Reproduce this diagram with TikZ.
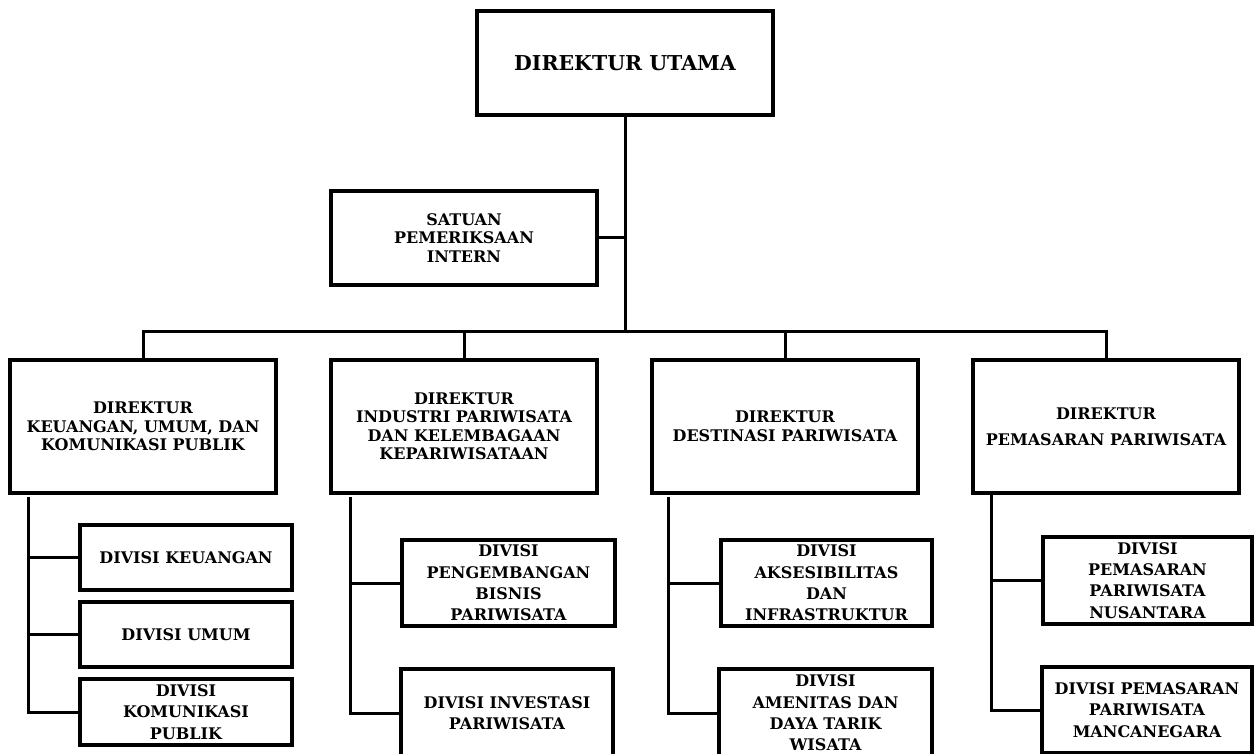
\documentclass[tikz,border=0pt]{standalone}
\usepackage{fontspec}
\setmainfont{DejaVu Serif}
\begin{document}
\begin{tikzpicture}[x=1pt,y=-1pt,
  box/.style={draw, line width=3.2pt, rectangle, inner sep=0pt, align=center,
    font=\fontsize{16}{18.5}\selectfont\bfseries},
  divbox/.style={box, font=\fontsize{16}{21.3}\selectfont\bfseries},
  conn/.style={line width=3pt},
]
\useasboundingbox (0,0) rectangle (1254,754);
\clip (0,0) rectangle (1254,754);

% top level
\node[box, minimum width=296pt, minimum height=104pt, font=\fontsize{20.5}{26}\selectfont\bfseries] (top) at (625,63) {DIREKTUR UTAMA};
\node[box, minimum width=266pt, minimum height=94pt] (sat) at (464,238) {SATUAN\\PEMERIKSAAN\\INTERN};

% directors
\node[box, minimum width=266pt, minimum height=133pt] (d1) at (143,426.5) {DIREKTUR\\KEUANGAN, UMUM, DAN\\KOMUNIKASI PUBLIK};
\node[box, minimum width=266pt, minimum height=133pt] (d2) at (464,426.5) {DIREKTUR\\INDUSTRI PARIWISATA\\DAN KELEMBAGAAN\\KEPARIWISATAAN};
\node[box, minimum width=266pt, minimum height=133pt] (d3) at (785,426.5) {DIREKTUR\\DESTINASI PARIWISATA};
\node[box, minimum width=266pt, minimum height=133pt, font=\fontsize{16}{26}\selectfont\bfseries] (d4) at (1106,426.5) {DIREKTUR\\PEMASARAN PARIWISATA};

% divisions column 1
\node[divbox, minimum width=212pt, minimum height=65pt] (a1) at (186,557.5) {DIVISI KEUANGAN};
\node[divbox, minimum width=212pt, minimum height=65pt] (a2) at (186,634.5) {DIVISI UMUM};
\node[divbox, minimum width=212pt, minimum height=66pt] (a3) at (186,712) {DIVISI\\KOMUNIKASI\\PUBLIK};

% column 2
\node[divbox, minimum width=213pt, minimum height=86pt] (b1) at (508.5,583) {DIVISI\\PENGEMBANGAN\\BISNIS\\PARIWISATA};
\node[divbox, minimum width=212pt, minimum height=88pt] (b2) at (507,713) {DIVISI INVESTASI\\PARIWISATA};

% column 3
\node[divbox, minimum width=211pt, minimum height=86pt] (c1) at (826.5,583) {DIVISI\\AKSESIBILITAS\\DAN\\INFRASTRUKTUR};
\node[divbox, minimum width=213pt, minimum height=88pt] (c2) at (825.5,713) {DIVISI\\AMENITAS DAN\\DAYA TARIK\\WISATA};

% column 4
\node[divbox, minimum width=209pt, minimum height=87pt] (e1) at (1147.5,580.5) {DIVISI\\PEMASARAN\\PARIWISATA\\NUSANTARA};
\node[divbox, minimum width=210pt, minimum height=86pt] (e2) at (1147,710) {DIVISI PEMASARAN\\PARIWISATA\\MANCANEGARA};

% main tree
\coordinate (bus) at (625,332);
\draw[conn] (top.south) -- (bus);
\draw[conn] (sat.east) -- (sat.east -| bus);
\draw[conn] (d1.north) |- (bus) -| (d4.north);
\draw[conn] (d2.north) -- (d2.north |- bus);
\draw[conn] (d3.north) -- (d3.north |- bus);

% sub trees
\coordinate (t1) at (28,497);
\coordinate (t2) at (350,497);
\coordinate (t3) at (668,497);
\coordinate (t4) at (991,494);
\draw[conn] (t1) |- (a3.west);
\draw[conn] (t1 |- a1.west) -- (a1.west);
\draw[conn] (t1 |- a2.west) -- (a2.west);
\draw[conn] (t2) |- (b2.west);
\draw[conn] (t2 |- b1.west) -- (b1.west);
\draw[conn] (t3) |- (c2.west);
\draw[conn] (t3 |- c1.west) -- (c1.west);
\draw[conn] (t4) |- (e2.west);
\draw[conn] (t4 |- e1.west) -- (e1.west);
\end{tikzpicture}
\end{document}
